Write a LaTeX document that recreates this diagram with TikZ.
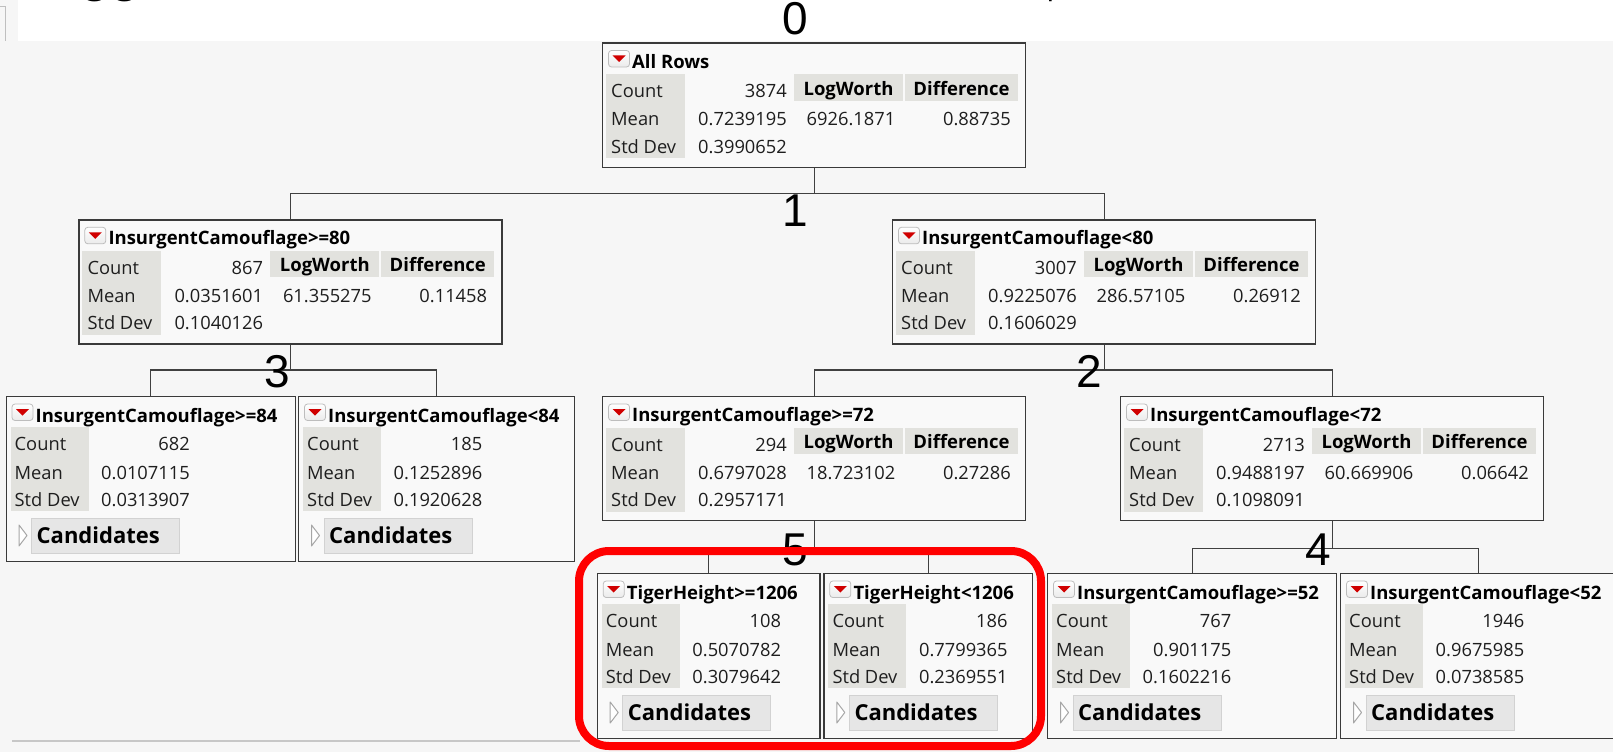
\documentclass[tikz,border=0pt]{standalone}
\usepackage{fontspec}
\setmainfont{Open Sans}
\newfontfamily\digitfont{Liberation Sans}
\usetikzlibrary{calc}

\definecolor{bgray}{HTML}{F6F6F6}
\definecolor{boxbg}{HTML}{F9F9F9}
\definecolor{colbg}{HTML}{E2E2DE}
\definecolor{framec}{HTML}{3A3A3A}
\definecolor{linec}{HTML}{404040}
\definecolor{btnred}{HTML}{D00000}
\definecolor{btnedge}{HTML}{BDBDBD}
\definecolor{candbg}{HTML}{E6E6E6}
\definecolor{candedge}{HTML}{D2D2D2}
\definecolor{txt}{HTML}{1E1E1E}
\definecolor{hilite}{HTML}{FF0000}

\tikzset{
  panel/.style={draw=framec, line width=1.3pt, fill=boxbg, inner sep=0pt, anchor=north west},
  conn/.style={draw=linec, line width=1.3pt},
  titletxt/.style={font=\fontsize{18.5}{20}\selectfont\bfseries, text=black, inner sep=0pt, anchor=base west},
  hdrtxt/.style={font=\fontsize{18.5}{20}\selectfont\bfseries, text=black, inner sep=0pt, anchor=base},
  lbltxt/.style={font=\fontsize{18.3}{20}\selectfont, text=txt, inner sep=0pt, anchor=base west},
  valtxt/.style={font=\fontsize{18.3}{20}\selectfont, text=txt, inner sep=0pt, anchor=base east},
  candtxt/.style={font=\fontsize{22}{24}\selectfont\bfseries, text=black, inner sep=0pt, anchor=base west},
  splitnum/.style={font=\digitfont\fontsize{46}{50}\selectfont, text=black, inner sep=0pt, anchor=base},
  fragtxt/.style={text=black, inner sep=0pt, anchor=base west},
}

% red drop-down button in the top left corner of each panel
\newcommand\menubtn{%
  \shadedraw[top color=white, bottom color=black!8, draw=btnedge, line width=0.8pt,
    rounded corners=3pt] (6.5,8) rectangle (27.5,24.5);
  \fill[btnred] (10.5,13) -- (23.5,13) -- (17,19.5) -- cycle;}

% panel of a node that is split further: name, x, y, title, count, mean, sd, logworth, difference
\newcommand\splitbox[9]{%
  \begin{scope}[shift={(#2,#3)}]
    \node[panel, minimum width=423pt, minimum height=124pt] (#1) at (0,0) {};
    \fill[colbg] (4,31.5) rectangle (83,115.5);
    \fill[colbg] (192,31.5) rectangle (301,58);
    \fill[colbg] (302.5,31.5) rectangle (416,58);
    \menubtn
    \node[titletxt] (#1-title) at (30,25.5) {#4};
    \node[lbltxt] (#1-lc) at (9,55) {Count};
    \node[lbltxt] (#1-lm) at (9,83) {Mean};
    \node[lbltxt] (#1-ls) at (9,110.5) {Std Dev};
    \node[valtxt] (#1-vc) at (185,55) {#5};
    \node[valtxt] (#1-vm) at (185,83) {#6};
    \node[valtxt] (#1-vs) at (185,110.5) {#7};
    \node[hdrtxt] (#1-hl) at (246.5,52.5) {LogWorth};
    \node[hdrtxt] (#1-hd) at (359.5,52.5) {Difference};
    \node[valtxt] (#1-vl) at (293.5,83) {#8};
    \node[valtxt] (#1-vd) at (409,83) {#9};
  \end{scope}}

% terminal panel: name, x, y, width, title, count, mean, sd
\newcommand\leafbox[8]{%
  \begin{scope}[shift={(#2,#3)}]
    \node[panel, minimum width=#4pt, minimum height=165pt] (#1) at (0,0) {};
    \fill[colbg] (5,31) rectangle (83,115);
    \menubtn
    \node[titletxt] (#1-title) at (30,26) {#5};
    \node[lbltxt] (#1-lc) at (9,54.5) {Count};
    \node[lbltxt] (#1-lm) at (9,83) {Mean};
    \node[lbltxt] (#1-ls) at (9,110.5) {Std Dev};
    \node[valtxt] (#1-vc) at (184.5,54.5) {#6};
    \node[valtxt] (#1-vm) at (184.5,83) {#7};
    \node[valtxt] (#1-vs) at (184.5,110.5) {#8};
    \draw[candedge, fill=candbg, line width=1pt] (26,122) rectangle (174,157);
    \draw[black!35, fill=white, line width=1pt, line join=round]
      (13.5,129) -- (21.5,139.5) -- (13.5,150) -- cycle;
    \node[candtxt] (#1-cand) at (31,147) {Candidates};
  \end{scope}}

\begin{document}
\begin{tikzpicture}[x=1pt, y=-1pt]
  \useasboundingbox (0,0) rectangle (1613,752);
  \fill[bgray] (0,0) rectangle (1613,752);
  \fill[white] (18,0) rectangle (1613,41);
  \draw[black!25, line width=1pt] (0,7) -- (5,7) -- (5,41);

  % descenders of the heading line above
  \node[fragtxt, font=\digitfont\bfseries\fontsize{49}{52}\selectfont] (hgg) at (80,-8) {gg};
  \node[fragtxt, font=\digitfont\fontsize{30}{32}\selectfont] (hp) at (1047,-4) {p};

  % panels
  \splitbox{root}{602}{42.5}{All Rows}{3874}{0.7239195}{0.3990652}{6926.1871}{0.88735}
  \splitbox{ca}{78.3}{219.3}{InsurgentCamouflage>=80}{867}{0.0351601}{0.1040126}{61.355275}{0.11458}
  \splitbox{cb}{892}{219.3}{InsurgentCamouflage<80}{3007}{0.9225076}{0.1606029}{286.57105}{0.26912}
  \leafbox{caa}{5.5}{396}{289}{InsurgentCamouflage>=84}{682}{0.0107115}{0.0313907}
  \leafbox{cab}{298}{396}{276}{InsurgentCamouflage<84}{185}{0.1252896}{0.1920628}
  \splitbox{cba}{602}{396}{InsurgentCamouflage>=72}{294}{0.6797028}{0.2957171}{18.723102}{0.27286}
  \splitbox{cbb}{1120}{396}{InsurgentCamouflage<72}{2713}{0.9488197}{0.1098091}{60.669906}{0.06642}
  \leafbox{cbaa}{596.7}{573}{222.6}{TigerHeight>=1206}{108}{0.5070782}{0.3079642}
  \leafbox{cbab}{823.3}{573}{208.4}{TigerHeight<1206}{186}{0.7799365}{0.2369551}
  \leafbox{cbba}{1047}{573}{289}{InsurgentCamouflage>=52}{767}{0.901175}{0.1602216}
  \leafbox{cbbb}{1340}{573}{276}{InsurgentCamouflage<52}{1946}{0.9675985}{0.0738585}

  % tree connectors
  \draw[conn] (root.south) -- ++(0,25.5) -| (ca.north);
  \draw[conn] (root.south) -- ++(0,25.5) -| (cb.north);
  \draw[conn] (ca.south) -- ++(0,25.5) -| (caa.north);
  \draw[conn] (ca.south) -- ++(0,25.5) -| (cab.north);
  \draw[conn] (cb.south) -- ++(0,25.5) -| (cba.north);
  \draw[conn] (cb.south) -- ++(0,25.5) -| (cbb.north);
  \draw[conn] (cba.south) -- ++(0,27) -| (cbaa.north);
  \draw[conn] (cba.south) -- ++(0,27) -| (cbab.north);
  \draw[conn] (cbb.south) -- ++(0,27) -| (cbba.north);
  \draw[conn] (cbb.south) -- ++(0,27) -| (cbbb.north);

  % split order numbers
  \node[splitnum] (n0) at (795,35) {0};
  \node[splitnum] (n1) at (795,226) {1};
  \node[splitnum] (n3) at (277,387) {3};
  \node[splitnum] (n2) at (1089,387) {2};
  \node[splitnum] (n5) at (795,565) {5};
  \node[splitnum] (n4) at (1318,565) {4};

  % highlight around the TigerHeight split
  \draw[hilite, line width=8pt, rounded corners=30pt] (579,551) rectangle (1041,746);

  % scroll bar edge
  \draw[black!22, line width=1.2pt] (12,741) -- (580,741);
\end{tikzpicture}
\end{document}
